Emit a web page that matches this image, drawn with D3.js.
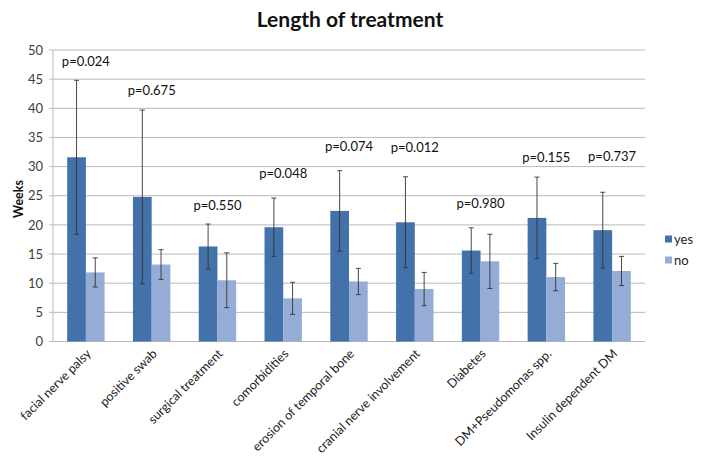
<!DOCTYPE html>
<html><head><meta charset="utf-8">
<script src="https://cdn.jsdelivr.net/npm/d3@7"></script>
<style>
body{margin:0;background:#fff;}
svg{display:block;font-family:Lato, "Open Sans", sans-serif;}
</style></head>
<body>
<svg id="chart" width="706" height="462"></svg>
<script>
const categories = ["facial nerve palsy","positive swab","surgical treatment","comorbidities","erosion of temporal bone","cranial nerve involvement","Diabetes","DM+Pseudomonas spp.","Insulin dependent DM"];
const seriesNames = ["yes","no"];
const yesValues = [31.6, 24.8, 16.3, 19.6, 22.4, 20.45, 15.6, 21.2, 19.1];
const yesErrors = [13.2, 14.9, 3.85, 5.0, 6.9, 7.8, 3.9, 7.0, 6.5];
const noValues  = [11.85, 13.2, 10.5, 7.4, 10.3, 9.0, 13.75, 11.05, 12.1];
const noErrors  = [2.5, 2.55, 4.7, 2.75, 2.25, 2.85, 4.65, 2.35, 2.5];
const pLabels = ["p=0.024","p=0.675","p=0.550","p=0.048","p=0.074","p=0.012","p=0.980","p=0.155","p=0.737"];
const pLabelLevel = [48.0, 43.0, 23.3, 28.85, 33.4, 33.3, 23.7, 31.5, 31.7];
const yTicks = [0,5,10,15,20,25,30,35,40,45,50];

const colors = {yes:"#4371AA", no:"#94ACD6"};
const svg = d3.select("#chart");
const m = {left:53, right:645, top:50, bottom:341.5};

const x = d3.scaleBand().domain(categories).range([m.left, m.right]).paddingInner(0).paddingOuter(0);
const xs = d3.scaleBand().domain(seriesNames).range([0, 37.4]);
const y = d3.scaleLinear().domain([0,50]).range([m.bottom, m.top]);

// gridlines
const g = svg.append("g");
g.selectAll("line.grid").data(yTicks).join("line")
  .attr("x1", m.left - 4).attr("x2", m.right)
  .attr("y1", d=>y(d)).attr("y2", d=>y(d))
  .attr("stroke", "#b9b9b9").attr("stroke-width", 1);
// y axis line
g.append("line").attr("x1", m.left).attr("x2", m.left).attr("y1", m.top).attr("y2", m.bottom)
  .attr("stroke","#b9b9b9");

// y tick labels
const yAxis = d3.axisLeft(y).tickValues(yTicks).tickSize(0).tickPadding(10);
const ya = svg.append("g").attr("transform", `translate(${m.left},0)`).call(yAxis);
ya.select(".domain").remove();
ya.selectAll("text").attr("font-size", 13).attr("fill", "#404040").attr("font-family","Lato, sans-serif");

// bars
const data = categories.map((c,i)=>({c, vals:[
  {s:"yes", v:yesValues[i], e:yesErrors[i]},
  {s:"no", v:noValues[i], e:noErrors[i]}]}));
const groups = svg.append("g").selectAll("g").data(data).join("g")
  .attr("transform", d=>`translate(${x(d.c) + x.bandwidth()/2 - 18.7},0)`);
groups.selectAll("rect").data(d=>d.vals).join("rect")
  .attr("x", d=>xs(d.s)).attr("width", xs.bandwidth())
  .attr("y", d=>y(d.v)).attr("height", d=>y(0)-y(d.v))
  .attr("fill", d=>colors[d.s]);

// error bars
const eb = groups.selectAll("g.err").data(d=>d.vals).join("g").attr("class","err")
  .attr("transform", d=>`translate(${xs(d.s)+xs.bandwidth()/2},0)`);
eb.append("line").attr("x1",0).attr("x2",0).attr("y1",d=>y(d.v+d.e)).attr("y2",d=>y(d.v-d.e))
  .attr("stroke","#333").attr("stroke-width",0.9);
eb.append("line").attr("x1",-2.5).attr("x2",2.5).attr("y1",d=>y(d.v+d.e)).attr("y2",d=>y(d.v+d.e))
  .attr("stroke","#333").attr("stroke-width",0.9);
eb.append("line").attr("x1",-2.5).attr("x2",2.5).attr("y1",d=>y(d.v-d.e)).attr("y2",d=>y(d.v-d.e))
  .attr("stroke","#333").attr("stroke-width",0.9);

// p labels
svg.append("g").selectAll("text").data(categories).join("text")
  .attr("x", d=>x(d)+x.bandwidth()/2)
  .attr("y", (d,i)=>y(pLabelLevel[i]))
  .attr("dy","0.35em").attr("text-anchor","middle")
  .attr("font-size", 13).attr("fill","#111")
  .text((d,i)=>pLabels[i]);

// x labels
svg.append("g").selectAll("text").data(categories).join("text")
  .attr("transform", d=>`translate(${x(d)+x.bandwidth()/2+6},${m.bottom+13}) rotate(-45)`)
  .attr("text-anchor","end").attr("font-size", 12.5).attr("fill","#222")
  .text(d=>d);

// title
svg.append("text").attr("x", 350).attr("y", 27).attr("text-anchor","middle")
  .attr("font-size", 21).attr("font-weight","bold").attr("fill","#111")
  .text("Length of treatment");

// y axis title
svg.append("text").attr("transform","translate(23,199) rotate(-90)")
  .attr("text-anchor","middle").attr("font-size",12.5).attr("font-weight","bold").attr("fill","#111")
  .text("Weeks");

// legend
const leg = svg.append("g").selectAll("g").data(seriesNames).join("g")
  .attr("transform",(d,i)=>`translate(665,${239 + i*21})`);
leg.append("rect").attr("x",0).attr("y",-3.5).attr("width",7).attr("height",7).attr("fill",d=>colors[d]);
leg.append("text").attr("x",9).attr("dy","0.35em").attr("font-size",13).attr("fill","#222").text(d=>d);
</script>
</body></html>
